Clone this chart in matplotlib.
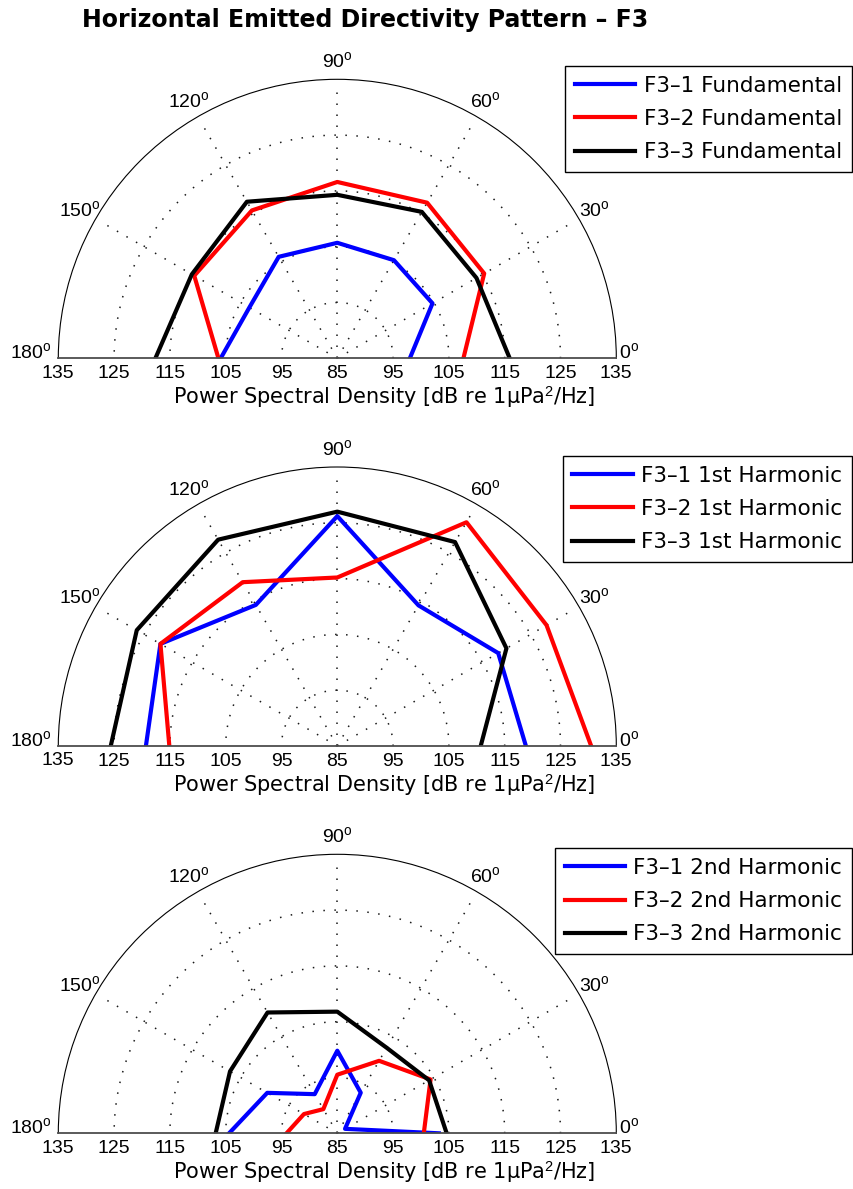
#Directivity plots for the F3 runs, one half-polar panel per harmonic
import numpy as np
import matplotlib.pyplot as plt

plt.rcParams['font.family'] = ['Liberation Sans', 'DejaVu Sans']
plt.rcParams['mathtext.fontset'] = 'custom'
plt.rcParams['mathtext.rm'] = 'Liberation Sans'
plt.rcParams['mathtext.it'] = 'Liberation Sans:italic'
plt.rcParams['mathtext.bf'] = 'Liberation Sans:bold'

#bearing of each measurement (deg)
angles_deg = [0, 30, 60, 90, 120, 150, 180]

#PSD levels in dB re 1uPa^2/Hz
fund_f31 = [98.0, 104.7, 105.3, 105.7, 106.0, 103.2, 105.9]
fund_f32 = [107.6, 115.4, 117.2, 116.6, 115.6, 114.6, 106.3]
fund_f33 = [115.9, 113.8, 115.3, 114.3, 117.4, 115.1, 117.6]

h1_f31 = [118.8, 118.3, 114.1, 126.2, 114.2, 121.6, 119.3]
h1_f32 = [130.5, 128.3, 131.3, 115.2, 118.9, 121.6, 115.1]
h1_f33 = [110.7, 120.0, 127.2, 127.0, 127.7, 126.5, 125.6]

h2_f31 = [103.2, 86.6, 93.4, 99.8, 93.1, 99.5, 104.4]
h2_f32 = [100.5, 104.3, 100.0, 95.5, 90.0, 91.9, 94.1]
h2_f33 = [104.6, 104.0, 102.7, 106.8, 110.0, 107.2, 106.8]

panels = [
    ('Fundamental', [fund_f31, fund_f32, fund_f33]),
    ('1st Harmonic', [h1_f31, h1_f32, h1_f33]),
    ('2nd Harmonic', [h2_f31, h2_f32, h2_f33]),
]
run_names = ['F3\u20131', 'F3\u20132', 'F3\u20133']
run_colors = ['#0000ff', '#ff0000', '#000000']

r_min, r_max = 85, 135
ring_levels = [95, 105, 115, 125]
spoke_angles = [30, 60, 90, 120, 150]
scale_labels = [135, 125, 115, 105, 95, 85]

W, H = 854, 1189
fig = plt.figure(figsize=(W / 100, H / 100), dpi=100)

fig.text(365 / W, 1 - 20 / H, 'Horizontal Emitted Directivity Pattern \u2013 F3',
         ha='center', va='center', fontsize=17, fontweight='bold', family='DejaVu Sans')

#pixel layout of each panel: centre y, legend top
centre_x = 337.3
radius_px = 279
centres_y = [358.3, 746.0, 1133.3]
legend_tops = [66, 456, 848]

theta = np.deg2rad(angles_deg)
dotted = (0, (1, 6.2))

for (name, series), cy, ltop in zip(panels, centres_y, legend_tops):
    #polar axes keeps a square box and centres the half disc in it
    side = 2 * radius_px
    rect = [(centre_x - radius_px) / W, (H - (cy + radius_px / 2)) / H, side / W, side / H]
    ax = fig.add_axes(rect, projection='polar')
    ax.set_thetamin(0)
    ax.set_thetamax(180)
    ax.grid(False)
    ax.set_xticks([])
    ax.set_yticks([])

    #dotted rings and spokes
    t_fine = np.linspace(0, np.pi, 200)
    for lev in ring_levels:
        ax.plot(t_fine, np.full_like(t_fine, lev), color='0.1', lw=1.1, ls=dotted)
    for a in spoke_angles:
        ax.plot([np.deg2rad(a)] * 2, [r_min, r_max - 1.5], color='0.1', lw=1.1, ls=dotted)

    for vals, run, col in zip(series, run_names, run_colors):
        ax.plot(theta, vals, color=col, lw=3, label=run + ' ' + name)

    ax.set_rlim(r_min, r_max)
    ax.spines['polar'].set_linewidth(0.8)
    ax.spines['polar'].set_color('black')
    for s in ['start', 'end']:
        ax.spines[s].set_color('0.3')
        ax.spines[s].set_linewidth(1.3)

    #angle labels around the rim
    for a in spoke_angles:
        ax.text(np.deg2rad(a), r_min + 1.065 * (r_max - r_min), str(a) + r'$^{\mathrm{o}}$',
                ha='center', va='center', fontsize=14)
    ax.annotate('180' + r'$^{\mathrm{o}}$', xy=(np.pi, r_min + 1.097 * (r_max - r_min)),
                xytext=(0, 6), textcoords='offset pixels', ha='center', va='center',
                fontsize=14, annotation_clip=False)
    ax.annotate('0' + r'$^{\mathrm{o}}$', xy=(0, r_min + 1.047 * (r_max - r_min)),
                xytext=(0, 6), textcoords='offset pixels', ha='center', va='center',
                fontsize=14, annotation_clip=False)

    #level scale along the baseline, mirrored on both sides
    for lev in scale_labels:
        for t in ([0, np.pi] if lev != r_min else [0]):
            ax.annotate(str(lev), xy=(t, lev), xytext=(0, -15), textcoords='offset pixels',
                        ha='center', va='center', fontsize=14, annotation_clip=False)

    fig.text(384 / W, 1 - (cy + 39) / H, 'Power Spectral Density [dB re 1\u03bcPa$^2$/Hz]',
             ha='center', va='center', fontsize=15, family='DejaVu Sans')

    leg = ax.legend(loc='upper right', bbox_to_anchor=(852 / W, 1 - ltop / H),
                    bbox_transform=fig.transFigure, borderaxespad=0, fancybox=False,
                    framealpha=1, edgecolor='black', handlelength=2.8,
                    labelspacing=0.62, handletextpad=0.4, borderpad=0.45,
                    prop={'family': 'DejaVu Sans', 'size': 15.5})
    leg.get_frame().set_linewidth(1.0)

fig.savefig('out.png', dpi=100)
